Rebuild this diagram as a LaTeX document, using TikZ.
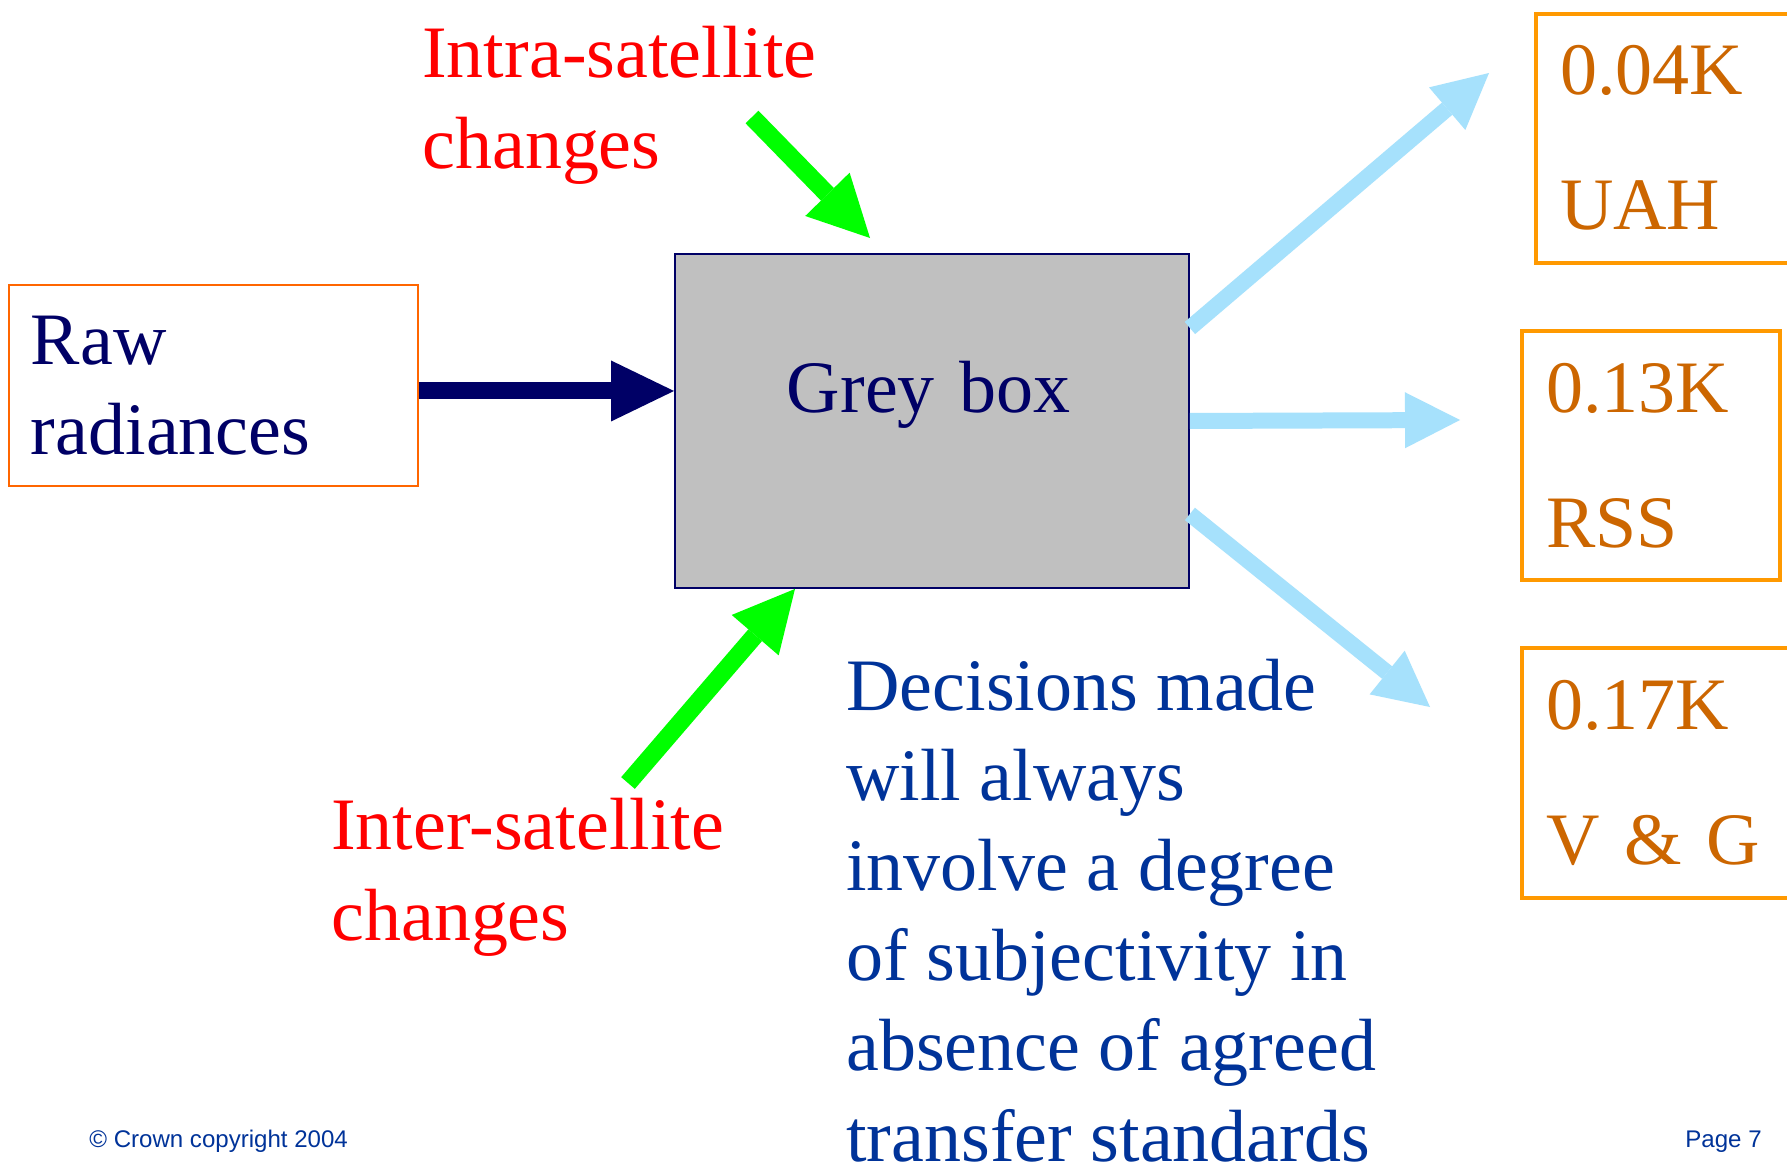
\documentclass[tikz,border=0pt]{standalone}
\usepackage{fontspec}
\setmainfont{Liberation Serif}
\newfontfamily\footfont{Liberation Sans}
\usetikzlibrary{arrows.meta}
\definecolor{slidenavy}{HTML}{000066}
\definecolor{slideblue}{HTML}{003399}
\definecolor{slidered}{HTML}{FF0000}
\definecolor{slidegreen}{HTML}{00FF00}
\definecolor{slidesky}{HTML}{A6E1FC}
\definecolor{slidegrey}{HTML}{C0C0C0}
\definecolor{rawedge}{HTML}{FF6600}
\definecolor{resedge}{HTML}{FF9900}
\definecolor{restext}{HTML}{CC6600}
\begin{document}
\begin{tikzpicture}[x=0.02cm,y=-0.02cm,
    bigtext/.style={font=\fontsize{42.1}{51.3}\selectfont,inner sep=0pt,align=left},
    resbox/.style={draw=resedge,line width=0.08cm,text=restext,font=\fontsize{42.1}{76.8}\selectfont,
        align=left,inner ysep=0pt,inner xsep=0.48cm,anchor=north west},
    navyarrow/.style={draw=slidenavy,line width=0.34cm,-{Triangle[length=1.26cm,width=1.22cm,line width=0pt]}},
    skyarrow/.style={draw=slidesky,line width=0.32cm,-{Triangle[length=1.1cm,width=1.12cm,line width=0pt]}},
    greenarrow/.style={draw=slidegreen,line width=0.36cm,-{Triangle[length=1.22cm,width=1.24cm,line width=0pt]}}]
    \useasboundingbox (0,0) rectangle (1787,1163);
    \fill[white] (0,0) rectangle (1787,1163);
    \clip (0,0) rectangle (1787,1163);
    % boxes
    \node[bigtext,draw=rawedge,line width=0.04cm,text=slidenavy,minimum width=8.18cm,minimum height=4.02cm,
        text width=7.3cm,inner xsep=0.44cm,anchor=north west] (raw) at (8,284) {Raw\\radiances};
    \node[draw=slidenavy,line width=0.04cm,fill=slidegrey,text=slidenavy,font=\fontsize{42.1}{51.3}\selectfont,
        minimum width=10.28cm,minimum height=6.68cm,text width=5.8cm,inner xsep=2.24cm,align=left,
        text height=1cm,text depth=1.32cm,anchor=north west] (grey) at (674,253) {Grey box};
    \node[resbox,minimum width=5.4cm,minimum height=4.99cm,text width=4.44cm] (uah) at (1534,11.5) {0.04K\\UAH};
    \node[resbox,minimum width=5.16cm,minimum height=4.98cm,text width=4.2cm] (rss) at (1520,329) {0.13K\\RSS};
    \node[resbox,minimum width=5.4cm,minimum height=5cm,text width=4.44cm] (vg) at (1520,646) {0.17K\\V \& G};
    % labels (base = last line)
    \node[bigtext,text=slidered,anchor=base west] (intra) at (422,168) {Intra-satellite\\changes};
    \node[bigtext,text=slidered,anchor=base west] (inter) at (331,940) {Inter-satellite\\changes};
    \node[bigtext,text=slideblue,anchor=base west] (decide) at (846,1161)
        {Decisions made\\will always\\involve a degree\\of subjectivity in\\absence of agreed\\transfer standards};
    \node[font=\footfont\fontsize{13.7}{16}\selectfont,text=slideblue,inner sep=0pt,anchor=base west] (copy) at (89,1147) {© Crown copyright 2004};
    \node[font=\footfont\fontsize{13.7}{16}\selectfont,text=slideblue,inner sep=0pt,anchor=base east] (page) at (1762,1147) {Page 7};
    % arrow ends
    \coordinate (intratail) at (752,117);
    \coordinate (intratip) at (870,238);
    \coordinate (intertail) at (628,783);
    \coordinate (uahtip) at (1489,73);
    \coordinate (rsstip) at (1460,420);
    \coordinate (vgtip) at (1430,707);
    % arrows
    \draw[navyarrow] ([yshift=-0.11cm]raw.east) -- ([yshift=-0.11cm]raw.east -| grey.west);
    \draw[greenarrow] (intratail) -- (intratip);
    \draw[greenarrow] (intertail) -- ([xshift=-2.74cm]grey.south);
    \draw[skyarrow] ([yshift=1.86cm]grey.east) -- (uahtip);
    \draw[skyarrow] (grey.east) -- (rsstip);
    \draw[skyarrow] ([yshift=-1.86cm]grey.east) -- (vgtip);
\end{tikzpicture}
\end{document}
